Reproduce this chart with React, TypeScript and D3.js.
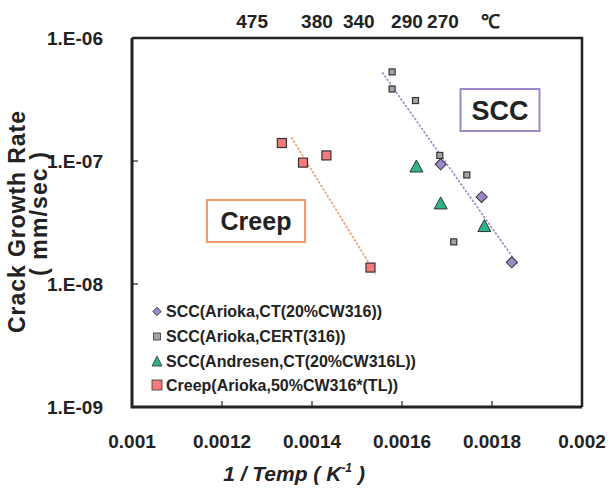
import { useEffect, useRef } from "react";
import * as d3 from "d3";

// 1/T (K^-1) and crack growth rate (mm/sec)
const SCC_CT_X = [0.001686, 0.001777, 0.001844];
const SCC_CT_Y = [9.4e-8, 5.1e-8, 1.5e-8];

const SCC_CERT_X = [0.001578, 0.001578, 0.00163, 0.001684, 0.001744, 0.001715];
const SCC_CERT_Y = [5.3e-7, 3.85e-7, 3.1e-7, 1.11e-7, 7.7e-8, 2.2e-8];

const SCC_AND_X = [0.001632, 0.001686, 0.001783];
const SCC_AND_Y = [8.9e-8, 4.46e-8, 2.92e-8];

const CREEP_X = [0.001333, 0.00138, 0.001432, 0.00153];
const CREEP_Y = [1.4e-7, 9.7e-8, 1.11e-7, 1.36e-8];

const SCC_FIT_X = [0.001556, 0.001859];
const SCC_FIT_Y = [5.26e-7, 1.41e-8];
const CREEP_FIT_X = [0.001354, 0.001542];
const CREEP_FIT_Y = [1.56e-7, 1.2e-8];

const X_TICKS = [0.001, 0.0012, 0.0014, 0.0016, 0.0018, 0.002];
const X_TICK_LABELS = ["0.001", "0.0012", "0.0014", "0.0016", "0.0018", "0.002"];
const Y_TICKS = [1e-9, 1e-8, 1e-7, 1e-6];
const Y_TICK_LABELS = ["1.E-09", "1.E-08", "1.E-07", "1.E-06"];
const TOP_TICKS = [0.001267, 0.001411, 0.001504, 0.001611, 0.001691, 0.001796];
const TOP_LABELS = ["475", "380", "340", "290", "270", "℃"];

const LEGEND = [
  "SCC(Arioka,CT(20%CW316))",
  "SCC(Arioka,CERT(316))",
  "SCC(Andresen,CT(20%CW316L))",
  "Creep(Arioka,50%CW316*(TL))",
];

const FONT = "'Liberation Sans', Arial, sans-serif";
const PURPLE = "#9d88c8";
const GRAY = "#a3a3a3";
const GREEN = "#2fb38a";
const RED = "#f47a7c";
const ORANGE = "#f59a6c";

export default function App() {
  const ref = useRef<SVGSVGElement | null>(null);

  useEffect(() => {
    if (!ref.current) return;
    const svg = d3.select(ref.current);
    svg.selectAll("*").remove();

    const width = 613;
    const height = 503;
    const margin = { top: 38, right: 31, bottom: 96, left: 132 };

    const x = d3
      .scaleLinear()
      .domain([0.001, 0.002])
      .range([margin.left, width - margin.right]);
    const y = d3
      .scaleLog()
      .domain([1e-9, 1e-6])
      .range([height - margin.bottom, margin.top]);

    svg.attr("viewBox", `0 0 ${width} ${height}`).style("font-family", FONT);
    svg.append("rect").attr("width", width).attr("height", height).attr("fill", "#fff");

    const x0 = x(0.001), x1 = x(0.002), y0 = y(1e-9), y1 = y(1e-6);

    // inner ticks
    const ticks = svg.append("g").attr("stroke", "#222").attr("stroke-width", 1.2);
    ticks
      .selectAll("line.yt")
      .data(Y_TICKS.slice(1, 3))
      .enter()
      .append("line")
      .attr("x1", x0)
      .attr("x2", x0 + 6)
      .attr("y1", (d) => y(d))
      .attr("y2", (d) => y(d));
    ticks
      .selectAll("line.xt")
      .data(X_TICKS.slice(1, 5))
      .enter()
      .append("line")
      .attr("x1", (d) => x(d))
      .attr("x2", (d) => x(d))
      .attr("y1", y0)
      .attr("y2", y0 - 6);

    // frame
    svg
      .append("path")
      .attr("d", `M${x0},${y1}H${x1}V${y0}`)
      .attr("fill", "none")
      .attr("stroke", "#222")
      .attr("stroke-width", 2.5);
    svg
      .append("path")
      .attr("d", `M${x0},${y1}V${y0}H${x1}`)
      .attr("fill", "none")
      .attr("stroke", "#222")
      .attr("stroke-width", 3);

    // tick labels
    svg
      .append("g")
      .selectAll("text")
      .data(Y_TICKS)
      .enter()
      .append("text")
      .attr("x", x0 - 29)
      .attr("y", (d) => y(d))
      .attr("dy", "0.36em")
      .attr("text-anchor", "end")
      .attr("font-size", 19)
      .attr("font-weight", "bold")
      .attr("fill", "#222")
      .text((_, i) => Y_TICK_LABELS[i]);

    svg
      .append("g")
      .selectAll("text")
      .data(X_TICKS)
      .enter()
      .append("text")
      .attr("x", (d) => x(d))
      .attr("y", 448)
      .attr("text-anchor", "middle")
      .attr("font-size", 19)
      .attr("font-weight", "bold")
      .attr("fill", "#222")
      .text((_, i) => X_TICK_LABELS[i]);

    svg
      .append("g")
      .selectAll("text")
      .data(TOP_TICKS)
      .enter()
      .append("text")
      .attr("x", (d) => x(d))
      .attr("y", 28)
      .attr("text-anchor", "middle")
      .attr("font-size", 19)
      .attr("font-weight", "bold")
      .attr("fill", "#222")
      .text((_, i) => TOP_LABELS[i]);

    // axis titles
    const xt = svg
      .append("text")
      .attr("x", 294)
      .attr("y", 481)
      .attr("text-anchor", "middle")
      .attr("font-size", 21)
      .attr("font-weight", "bold")
      .attr("font-style", "italic")
      .attr("fill", "#222");
    xt.append("tspan").text("1 / Temp  ( K");
    xt.append("tspan").attr("font-size", 12).attr("dy", -9).text("-1");
    xt.append("tspan").attr("dy", 9).text(" )");

    svg
      .append("text")
      .attr("transform", "translate(25,222) rotate(-90)")
      .attr("text-anchor", "middle")
      .attr("font-size", 23)
      .attr("font-weight", "bold")
      .attr("fill", "#222")
      .attr("textLength", 222)
      .text("Crack Growth Rate");
    svg
      .append("text")
      .attr("transform", "translate(47,214) rotate(-90)")
      .attr("text-anchor", "middle")
      .attr("font-size", 23)
      .attr("font-weight", "bold")
      .attr("fill", "#222")
      .attr("textLength", 124)
      .text("( mm/sec )");

    // fit lines
    const fit = (xs: number[], ys: number[], color: string) => {
      svg
        .append("path")
        .attr(
          "d",
          d3
            .line<number>()
            .x((d) => x(d))
            .y((_, i) => y(ys[i]))(xs)
        )
        .attr("fill", "none")
        .attr("stroke", color)
        .attr("stroke-width", 1.6)
        .attr("stroke-dasharray", "2.5,1.5");
    };
    fit(CREEP_FIT_X, CREEP_FIT_Y, ORANGE);
    fit(SCC_FIT_X, SCC_FIT_Y, PURPLE);

    // markers
    const squares = (xs: number[], ys: number[], s: number, fill: string) => {
      svg
        .append("g")
        .selectAll("rect")
        .data(xs)
        .enter()
        .append("rect")
        .attr("x", (d) => x(d) - s / 2)
        .attr("y", (_, i) => y(ys[i]) - s / 2)
        .attr("width", s)
        .attr("height", s)
        .attr("fill", fill)
        .attr("stroke", "#333")
        .attr("stroke-width", 1.2);
    };
    squares(CREEP_X, CREEP_Y, 9, RED);
    squares(SCC_CERT_X, SCC_CERT_Y, 6, GRAY);

    const diamond = d3.symbol().type(d3.symbolSquare).size(62)();
    svg
      .append("g")
      .selectAll("path")
      .data(SCC_CT_X)
      .enter()
      .append("path")
      .attr("d", diamond)
      .attr("transform", (d, i) => `translate(${x(d)},${y(SCC_CT_Y[i])}) rotate(45)`)
      .attr("fill", PURPLE)
      .attr("stroke", "#333")
      .attr("stroke-width", 1);

    const tri = (cx: number, cy: number, w: number, h: number) =>
      `M${cx},${cy - h * 0.6}L${cx + w / 2},${cy + h * 0.4}L${cx - w / 2},${cy + h * 0.4}Z`;
    svg
      .append("g")
      .selectAll("path")
      .data(SCC_AND_X)
      .enter()
      .append("path")
      .attr("d", (d, i) => tri(x(d), y(SCC_AND_Y[i]), 13, 12))
      .attr("fill", GREEN)
      .attr("stroke", "#333")
      .attr("stroke-width", 1);

    // annotation boxes
    const box = (cx: number, cy: number, w: number, h: number, label: string, color: string, fs: number) => {
      svg
        .append("rect")
        .attr("x", cx - w / 2)
        .attr("y", cy - h / 2)
        .attr("width", w)
        .attr("height", h)
        .attr("fill", "#fff")
        .attr("stroke", color)
        .attr("stroke-width", 2);
      svg
        .append("text")
        .attr("x", cx)
        .attr("y", cy)
        .attr("dy", "0.36em")
        .attr("text-anchor", "middle")
        .attr("font-size", fs)
        .attr("font-weight", "bold")
        .attr("fill", "#222")
        .text(label);
    };
    box(256, 221, 98, 42, "Creep", ORANGE, 25);
    box(500, 110, 79, 42, "SCC", PURPLE, 27);

    // legend
    const lg = svg.append("g");
    const rows = [311.5, 336.5, 361, 385];
    LEGEND.forEach((label, i) => {
      const ly = rows[i];
      const mx = 157;
      if (i === 0) {
        lg.append("path")
          .attr("d", d3.symbol().type(d3.symbolSquare).size(36)())
          .attr("transform", `translate(${mx},${ly}) rotate(45)`)
          .attr("fill", PURPLE)
          .attr("stroke", "#333")
          .attr("stroke-width", 0.8);
      } else if (i === 1) {
        lg.append("rect")
          .attr("x", mx - 3.5)
          .attr("y", ly - 3.5)
          .attr("width", 7)
          .attr("height", 7)
          .attr("fill", GRAY)
          .attr("stroke", "#333")
          .attr("stroke-width", 0.8);
      } else if (i === 2) {
        lg.append("path")
          .attr("d", tri(mx, ly + 1, 10, 10))
          .attr("fill", GREEN)
          .attr("stroke", "#333")
          .attr("stroke-width", 0.8);
      } else {
        lg.append("rect")
          .attr("x", mx - 5)
          .attr("y", ly - 5)
          .attr("width", 10)
          .attr("height", 10)
          .attr("fill", RED)
          .attr("stroke", "#333")
          .attr("stroke-width", 0.8);
      }
      lg.append("text")
        .attr("x", 166)
        .attr("y", ly)
        .attr("dy", "0.36em")
        .attr("font-size", 16)
        .attr("font-weight", "bold")
        .attr("fill", "#222")
        .text(label);
    });
  }, []);

  return (
    <svg
      ref={ref}
      width={613}
      height={503}
      style={{ position: "absolute", left: 0, top: 0, display: "block" }}
    />
  );
}
